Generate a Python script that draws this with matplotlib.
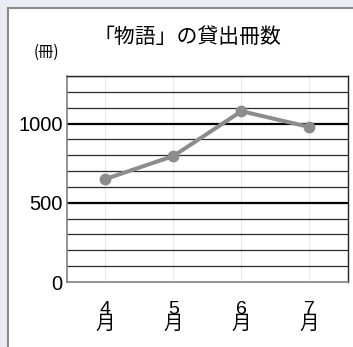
import numpy as np
import matplotlib.pyplot as plt
from matplotlib.patches import Rectangle

plt.rcParams['font.family'] = ['Liberation Sans', 'Noto Sans CJK JP']

# データ
months = ['4\n月', '5\n月', '6\n月', '7\n月']
loans = [650, 795, 1078, 978]
major_ticks = [0, 500, 1000]
minor_lines = [100, 200, 300, 400, 600, 700, 800, 900, 1100, 1200, 1300]

fig = plt.figure(figsize=(3.53, 3.47), dpi=100)
fig.patch.set_facecolor('#ebebf5')

# 白いパネル
panel = Rectangle((8 / 353, -0.05), 1.1, 1 - 8 / 347 + 0.05, transform=fig.transFigure,
                  facecolor='white', edgecolor='#8a8a8a', lw=1.5, zorder=-5)
fig.patches.append(panel)

ax = fig.add_axes([67 / 353, 1 - 282 / 347, (347.5 - 67) / 353, (282 - 76) / 347])
ax.set_zorder(2)
ax.set_facecolor('white')

x = np.arange(len(months))
ax.set_xlim(-0.565, 3.56)
ax.set_ylim(0, 1300)

# 目盛線
for v in minor_lines:
    ax.axhline(v, color='#2a2a2a', lw=0.9, zorder=1)
for v in major_ticks[1:]:
    ax.axhline(v, color='#000000', lw=1.6, zorder=1)
for xi in x:
    ax.axvline(xi, color='#e8e8e8', lw=0.8, zorder=0.5)

ax.plot(x, loans, color='#8c8c8c', lw=2.9, marker='o', markersize=7.5, zorder=3)

for s in ['left', 'bottom']:
    ax.spines[s].set_color('#808080')
    ax.spines[s].set_linewidth(1.2)
for s in ['top', 'right']:
    ax.spines[s].set_color('#222222')
    ax.spines[s].set_linewidth(1.0)

ax.set_yticks(major_ticks)
ax.set_yticklabels([str(v) for v in major_ticks], fontsize=14.5)
ax.set_xticks(x)
ax.set_xticklabels(months, fontsize=14, linespacing=0.85)
ax.tick_params(axis='y', length=0, pad=3)
ax.tick_params(axis='x', length=0, pad=13.5)

fig.text(0.53, 0.893, '「物語」の貸出冊数', fontsize=15, ha='center', va='center',
         family=['Noto Sans CJK JP'])
fig.text(0.131, 0.85, '(冊)', fontsize=11, ha='center', va='center',
         family=['Noto Sans CJK JP'])

fig.savefig('out.png', dpi=100, facecolor=fig.get_facecolor())
